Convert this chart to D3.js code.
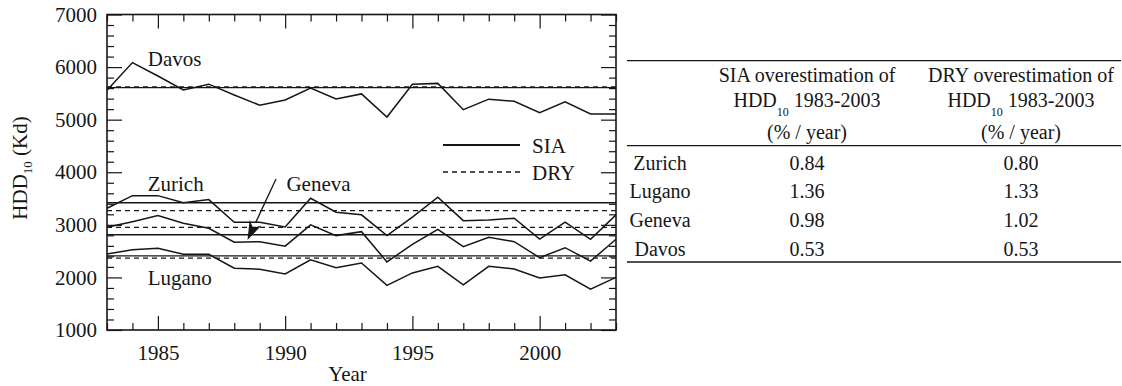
<!DOCTYPE html>
<html>
<head>
<meta charset="utf-8">
<script src="https://cdn.jsdelivr.net/npm/d3@7"></script>
<style>
  html, body { margin: 0; padding: 0; background: #fff; }
  svg { display: block; font-family: "Liberation Serif", "Times New Roman", serif; }
</style>
</head>
<body>
<svg id="chart" width="1122" height="386"></svg>
<script>
// Heating degree days (base 10 °C) per year, 1983-2003
const years = [1983, 1984, 1985, 1986, 1987, 1988, 1989, 1990, 1991, 1992, 1993,
               1994, 1995, 1996, 1997, 1998, 1999, 2000, 2001, 2002, 2003];
const davos  = [5560, 6085, 5830, 5565, 5675, 5470, 5275, 5375, 5600, 5395, 5490,
                5050, 5675, 5690, 5190, 5390, 5350, 5135, 5340, 5110, 5110];
const zurich = [3315, 3555, 3555, 3420, 3480, 3050, 3050, 2960, 3505, 3240, 3190,
                2795, 3145, 3525, 3080, 3090, 3125, 2730, 3050, 2725, 3190];
const geneva = [2955, 3060, 3175, 3030, 2935, 2670, 2680, 2595, 3000, 2795, 2870,
                2295, 2630, 2915, 2585, 2765, 2680, 2375, 2565, 2310, 2725];
const lugano = [2445, 2525, 2555, 2440, 2440, 2175, 2155, 2065, 2335, 2185, 2275,
                1850, 2085, 2210, 1860, 2210, 2160, 1990, 2050, 1775, 2000];

// Constant design values per station
const stations   = ["Davos", "Zurich", "Geneva", "Lugano"];
const siaLevels  = [5610, 3420, 2810, 2410];
const dryLevels  = [5625, 3270, 2950, 2365];

// Axis ticks
const xMajor = [1985, 1990, 1995, 2000];
const yMajor = [1000, 2000, 3000, 4000, 5000, 6000, 7000];

// Station labels inside the plot (year, value of the baseline)
const labelNames  = ["Davos", "Zurich", "Geneva", "Lugano"];
const labelYears  = [1984.6, 1984.6, 1990.05, 1984.6];
const labelValues = [6020, 3650, 3650, 1850];

// Table: trend of overestimation
const tableRows = ["Zurich", "Lugano", "Geneva", "Davos"];
const siaTrend  = ["0.84", "1.36", "0.98", "0.53"];
const dryTrend  = ["0.80", "1.33", "1.02", "0.53"];

const svg = d3.select("#chart");
const plot = { left: 107, right: 616, top: 14.5, bottom: 330 };

const x = d3.scaleLinear().domain([1983, 2003]).range([plot.left, plot.right]);
const y = d3.scaleLinear().domain([1000, 7000]).range([plot.bottom, plot.top]);

const FONT = 21;
const ink = "#161616";

// ---- axes with inward ticks on all four sides ----
const xMinor = years.filter(v => xMajor.indexOf(v) < 0);
const yMinor = d3.range(1000, 7001, 200).filter(v => yMajor.indexOf(v) < 0);

function styleAxis(g) {
  g.select(".domain").remove();
  g.selectAll(".tick line").attr("stroke", ink).attr("stroke-width", 1.2);
  g.selectAll("text").attr("font-size", FONT).attr("fill", ink)
    .attr("font-family", "Liberation Serif, serif");
}

const axes = svg.append("g");
// bottom
axes.append("g").attr("transform", `translate(0,${plot.bottom})`)
  .call(d3.axisBottom(x).tickValues(xMinor).tickSizeInner(-7).tickFormat(""))
  .call(styleAxis);
axes.append("g").attr("transform", `translate(0,${plot.bottom})`)
  .call(d3.axisBottom(x).tickValues(xMajor).tickSizeInner(-14).tickPadding(15).tickFormat(d3.format("d")))
  .call(styleAxis);
// top
axes.append("g").attr("transform", `translate(0,${plot.top})`)
  .call(d3.axisTop(x).tickValues(xMinor).tickSizeInner(-7).tickFormat(""))
  .call(styleAxis);
axes.append("g").attr("transform", `translate(0,${plot.top})`)
  .call(d3.axisTop(x).tickValues(xMajor).tickSizeInner(-14).tickFormat(""))
  .call(styleAxis);
// left
axes.append("g").attr("transform", `translate(${plot.left},0)`)
  .call(d3.axisLeft(y).tickValues(yMinor).tickSizeInner(-7).tickFormat(""))
  .call(styleAxis);
axes.append("g").attr("transform", `translate(${plot.left},0)`)
  .call(d3.axisLeft(y).tickValues(yMajor).tickSizeInner(-15).tickPadding(10).tickFormat(d3.format("d")))
  .call(styleAxis);
// right
axes.append("g").attr("transform", `translate(${plot.right},0)`)
  .call(d3.axisRight(y).tickValues(yMinor).tickSizeInner(-7).tickFormat(""))
  .call(styleAxis);
axes.append("g").attr("transform", `translate(${plot.right},0)`)
  .call(d3.axisRight(y).tickValues(yMajor).tickSizeInner(-15).tickFormat(""))
  .call(styleAxis);

// frame
svg.append("rect")
  .attr("x", plot.left).attr("y", plot.top)
  .attr("width", plot.right - plot.left).attr("height", plot.bottom - plot.top)
  .attr("fill", "none").attr("stroke", ink).attr("stroke-width", 1.6);

// ---- reference levels ----
const refs = svg.append("g");
stations.forEach((s, i) => {
  refs.append("line")
    .attr("x1", x(1983)).attr("x2", x(2003))
    .attr("y1", y(dryLevels[i])).attr("y2", y(dryLevels[i]))
    .attr("stroke", ink).attr("stroke-width", 1.3).attr("stroke-dasharray", "5,4");
  refs.append("line")
    .attr("x1", x(1983)).attr("x2", x(2003))
    .attr("y1", y(siaLevels[i])).attr("y2", y(siaLevels[i]))
    .attr("stroke", ink).attr("stroke-width", 1.4);
});

// ---- yearly series ----
const line = d3.line().x((d, i) => x(years[i])).y(d => y(d));
[davos, zurich, geneva, lugano].forEach(series => {
  svg.append("path").datum(series)
    .attr("d", line)
    .attr("fill", "none").attr("stroke", ink).attr("stroke-width", 1.5)
    .attr("stroke-linejoin", "miter");
});

// ---- station labels ----
labelNames.forEach((name, i) => {
  svg.append("text")
    .attr("x", x(labelYears[i])).attr("y", y(labelValues[i]))
    .attr("font-size", FONT).attr("fill", ink)
    .text(name);
});

// arrow from the Geneva label down to its curve
const arrowFrom = [1989.64, 3870], arrowTo = [1988.52, 2710];
{
  const x0 = x(arrowFrom[0]), y0 = y(arrowFrom[1]);
  const x1 = x(arrowTo[0]), y1 = y(arrowTo[1]);
  const ang = Math.atan2(y1 - y0, x1 - x0);
  const len = 19, half = 6.5;
  const bx = x1 - len * Math.cos(ang), by = y1 - len * Math.sin(ang);
  svg.append("line")
    .attr("x1", x0).attr("y1", y0).attr("x2", bx).attr("y2", by)
    .attr("stroke", ink).attr("stroke-width", 1.3);
  const px = -Math.sin(ang) * half, py = Math.cos(ang) * half;
  svg.append("path")
    .attr("d", `M${x1},${y1}L${bx + px},${by + py}L${bx + 0.3 * len * Math.cos(ang)},${by + 0.3 * len * Math.sin(ang)}L${bx - px},${by - py}Z`)
    .attr("fill", ink);
}

// ---- legend ----
const legend = svg.append("g").attr("transform", "translate(443,145)");
legend.append("line").attr("x1", 0).attr("x2", 77).attr("y1", 0).attr("y2", 0)
  .attr("stroke", ink).attr("stroke-width", 1.8);
legend.append("text").attr("x", 89).attr("y", 8).attr("font-size", FONT).attr("fill", ink).text("SIA");
legend.append("line").attr("x1", 0).attr("x2", 77).attr("y1", 27).attr("y2", 27)
  .attr("stroke", ink).attr("stroke-width", 1.3).attr("stroke-dasharray", "5,4");
legend.append("text").attr("x", 89).attr("y", 35).attr("font-size", FONT).attr("fill", ink).text("DRY");

// ---- axis titles ----
svg.append("text")
  .attr("x", (plot.left + plot.right) / 2 - 14).attr("y", 381)
  .attr("text-anchor", "middle").attr("font-size", FONT).attr("fill", ink)
  .text("Year");

const yTitle = svg.append("text")
  .attr("transform", "translate(27,168) rotate(-90)")
  .attr("text-anchor", "middle").attr("font-size", FONT).attr("fill", ink);
yTitle.append("tspan").text("HDD");
yTitle.append("tspan").attr("font-size", 13).attr("dy", 5).text("10");
yTitle.append("tspan").attr("dy", -5).text(" (Kd)");

// ---- table ----
const TF = 20;
const table = svg.append("g").attr("fill", ink).attr("font-size", TF);
const tLeft = 627, tRight = 1121;
const colX = [660, 807, 1021];
[60.7, 145.7, 262].forEach(yy => {
  table.append("line").attr("x1", tLeft).attr("x2", tRight).attr("y1", yy).attr("y2", yy)
    .attr("stroke", ink).attr("stroke-width", 1.3);
});

["SIA", "DRY"].forEach((m, j) => {
  const cx = colX[j + 1];
  table.append("text").attr("x", cx).attr("y", 82).attr("text-anchor", "middle")
    .text(`${m} overestimation of`);
  const t = table.append("text").attr("x", cx).attr("y", 106.5).attr("text-anchor", "middle");
  t.append("tspan").text("HDD");
  t.append("tspan").attr("font-size", 12).attr("dy", 9).text("10");
  t.append("tspan").attr("dy", -9).text(" 1983-2003");
  table.append("text").attr("x", cx).attr("y", 138.5).attr("text-anchor", "middle")
    .text("(% / year)");
});

const rowY = [169.5, 198.3, 227, 255.7];
tableRows.forEach((r, i) => {
  table.append("text").attr("x", colX[0]).attr("y", rowY[i]).attr("text-anchor", "middle").text(r);
  table.append("text").attr("x", colX[1]).attr("y", rowY[i]).attr("text-anchor", "middle").text(siaTrend[i]);
  table.append("text").attr("x", colX[2]).attr("y", rowY[i]).attr("text-anchor", "middle").text(dryTrend[i]);
});
</script>
</body>
</html>
